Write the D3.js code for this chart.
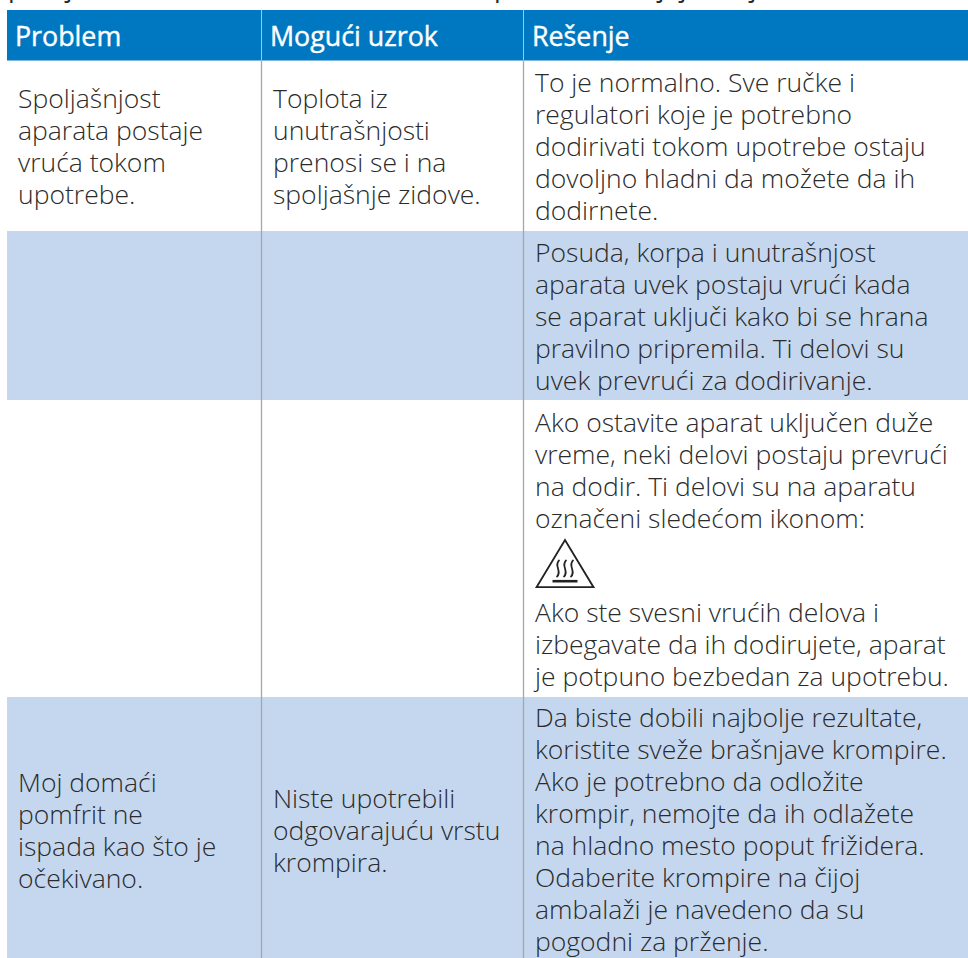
<!DOCTYPE html>
<html>
<head>
<meta charset="utf-8">
<script src="https://cdn.jsdelivr.net/npm/d3@7"></script>
<style>
  html, body { margin: 0; padding: 0; background: #fff; }
  svg { display: block; }
  text { font-family: "Open Sans", "Noto Sans", sans-serif; }
</style>
</head>
<body>
<div id="chart"></div>
<script>
// Table content
const columns = ["Problem", "Mogući uzrok", "Rešenje"];
const problemRow1 = ["Spoljašnjost", "aparata postaje", "vruća tokom", "upotrebe."];
const problemRow4 = ["Moj domaći", "pomfrit ne", "ispada kao što je", "očekivano."];
const causeRow1 = ["Toplota iz", "unutrašnjosti", "prenosi se i na", "spoljašnje zidove."];
const causeRow4 = ["Niste upotrebili", "odgovarajuću vrstu", "krompira."];
const solutionRow1 = ["To je normalno. Sve ručke i", "regulatori koje je potrebno", "dodirivati tokom upotrebe ostaju", "dovoljno hladni da možete da ih", "dodirnete."];
const solutionRow2 = ["Posuda, korpa i unutrašnjost", "aparata uvek postaju vrući kada", "se aparat uključi kako bi se hrana", "pravilno pripremila. Ti delovi su", "uvek prevrući za dodirivanje."];
const solutionRow3a = ["Ako ostavite aparat uključen duže", "vreme, neki delovi postaju prevrući", "na dodir. Ti delovi su na aparatu", "označeni sledećom ikonom:"];
const solutionRow3b = ["Ako ste svesni vrućih delova i", "izbegavate da ih dodirujete, aparat", "je potpuno bezbedan za upotrebu."];
const solutionRow4 = ["Da biste dobili najbolje rezultate,", "koristite sveže brašnjave krompire.", "Ako je potrebno da odložite", "krompir, nemojte da ih odlažete", "na hladno mesto poput frižidera.", "Odaberite krompire na čijoj", "ambalaži je navedeno da su", "pogodni za prženje."];
const rowEdges = [61, 231, 400, 697, 958];
const colEdges = [7, 262, 524, 968];

// descenders of the line cut off by the top of the page
const cutLetters = "pjpjjj".split("");
const cutLetterX = [8, 66, 494, 658, 680, 750];

const blue = "#0078c1", band = "#c5d7ef", rule = "#a3a8ad", ink = "#2b2b2b";
const fontSize = 26.5, lineH = 32;
const W = 968, H = 958;

const svg = d3.select("#chart").append("svg").attr("width", W).attr("height", H);

const x = d3.scaleOrdinal().domain(columns).range(colEdges.slice(0, 3));
const textX = c => x(c) + 11;

svg.selectAll("text.cut").data(cutLetters).join("text").attr("class", "cut")
  .attr("x", (d, i) => cutLetterX[i]).attr("y", -4.5)
  .attr("font-size", fontSize).attr("fill", ink).text(d => d);

// header
svg.append("rect").attr("x", colEdges[0]).attr("y", 10).attr("width", W - colEdges[0]).attr("height", 50).attr("fill", blue);
svg.append("rect").attr("x", colEdges[0]).attr("y", 60).attr("width", W - colEdges[0]).attr("height", 1).attr("fill", "#7fb8de");
svg.selectAll("text.head").data(columns).join("text").attr("class", "head")
  .attr("x", d => x(d) + 8).attr("y", 46)
  .attr("font-size", 26.8).attr("fill", "#fff")
  .attr("stroke", "#fff").attr("stroke-width", 0.4).text(d => d);

// shaded rows
svg.selectAll("rect.band").data([1, 3]).join("rect").attr("class", "band")
  .attr("x", colEdges[0]).attr("y", r => rowEdges[r]).attr("width", W - colEdges[0])
  .attr("height", r => rowEdges[r + 1] - rowEdges[r]).attr("fill", band);

// column rules
const dividers = colEdges.slice(1, 3);
svg.selectAll("line.headrule").data(dividers).join("line").attr("class", "headrule")
  .attr("x1", d => d - 0.5).attr("x2", d => d - 0.5).attr("y1", 10).attr("y2", 60)
  .attr("stroke", "#9ccbe6").attr("stroke-width", 1);
svg.selectAll("line.rule").data(dividers).join("line").attr("class", "rule")
  .attr("x1", d => d - 0.5).attr("x2", d => d - 0.5).attr("y1", 61).attr("y2", H)
  .attr("stroke", rule).attr("stroke-width", 1.3);

function cell(lines, colName, firstBase) {
  svg.append("g").selectAll("text").data(lines).join("text")
    .attr("x", textX(colName)).attr("y", (d, i) => firstBase + i * lineH)
    .attr("font-size", fontSize).attr("font-weight", 300).attr("fill", ink).text(d => d);
}

cell(problemRow1, columns[0], 108);
cell(causeRow1, columns[1], 108);
cell(problemRow4, columns[0], 792);
cell(causeRow4, columns[1], 808);

cell(solutionRow1, columns[2], 92);
cell(solutionRow2, columns[2], 262);
cell(solutionRow3a, columns[2], 432);
cell(solutionRow3b, columns[2], 622);
cell(solutionRow4, columns[2], 727);

// hot surface icon
const icon = svg.append("g").attr("transform", "translate(565,588)").attr("fill", "none").attr("stroke", "#222");
icon.append("path").attr("d", "M-28.5,-0.8 L0,-48 L28.5,-0.8 Z").attr("stroke-width", 1.8).attr("stroke-linejoin", "miter");
icon.append("path").attr("d", "M-12.5,-6.8 H12.5").attr("stroke-width", 2.6);
[-7, 0, 7].forEach(dx => {
  icon.append("path").attr("stroke-width", 1.7)
    .attr("d", `M${dx + 1.5},-28 C${dx - 5},-23 ${dx + 5},-16 ${dx - 1.5},-11`);
});
</script>
</body>
</html>
